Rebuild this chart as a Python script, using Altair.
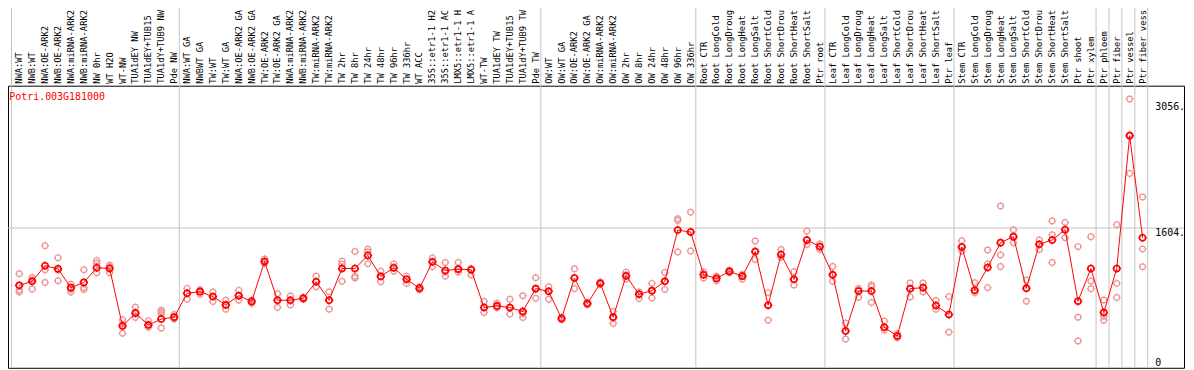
import altair as alt
import pandas as pd

gene_id = "Potri.003G181000"

labels = [
    "NWA:WT", "NWB:WT", "NWA:OE-ARK2", "NWB:OE-ARK2", "NWA:miRNA-ARK2", "NWB:miRNA-ARK2",
    "NW 0hr", "WT H2O", "WT-NW", "TUA1dEY NW", "TUA1dEY+TUB15", "TUA1dY+TUB9 NW", "Pde NW",
    "NWA:WT GA", "NWBWT GA", "TW:WT", "TW:WT GA", "NWA:OE-ARK2 GA", "NWB:OE-ARK2 GA",
    "TW:OE-ARK2", "TW:OE-ARK2 GA", "NWA:miRNA-ARK2", "NWB:miRNA-ARK2", "TW:miRNA-ARK2",
    "TW:miRNA-ARK2", "TW 2hr", "TW 8hr", "TW 24hr", "TW 48hr", "TW 96hr", "TW 336hr", "WT ACC",
    "35S::etr1-1 H2", "35S::etr1-1 AC", "LMX5::etr1-1 H", "LMX5::etr1-1 A", "WT-TW",
    "TUA1dEY TW", "TUA1dEY+TUB15", "TUA1dY+TUB9 TW", "Pde TW",
    "OW:WT", "OW:WT GA", "OW:OE-ARK2", "OW:OE-ARK2 GA", "OW:miRNA-ARK2", "OW:miRNA-ARK2",
    "OW 2hr", "OW 8hr", "OW 24hr", "OW 48hr", "OW 96hr", "OW 336hr",
    "Root CTR", "Root LongCold", "Root LongDroug", "Root LongHeat", "Root LongSalt",
    "Root ShortCold", "Root ShortDrou", "Root ShortHeat", "Root ShortSalt", "Ptr root",
    "Leaf CTR", "Leaf LongCold", "Leaf LongDroug", "Leaf LongHeat", "Leaf LongSalt",
    "Leaf ShortCold", "Leaf ShortDrou", "Leaf ShortHeat", "Leaf ShortSalt", "Ptr leaf",
    "Stem CTR", "Stem LongCold", "Stem LongDroug", "Stem LongHeat", "Stem LongSalt",
    "Stem ShortCold", "Stem ShortDrou", "Stem ShortHeat", "Stem ShortSalt", "Ptr shoot",
    "Ptr xylem", "Ptr phloem", "Ptr fiber", "Ptr vessel", "Ptr fiber vess",
]

means = [
    946, 992, 1171, 1136, 920, 980, 1148, 1140, 479, 627, 490, 559, 581,
    855, 874, 817, 722, 828, 760, 1220, 775, 775, 798, 988, 775, 1140, 1140, 1288,
    1049, 1148, 1015, 912, 1216, 1117, 1132, 1125, 692, 710, 692, 646, 908,
    878, 566, 1030, 737, 969, 581, 1056, 844, 885, 992, 1581, 1558,
    1068, 1026, 1106, 1052, 1334, 718, 1300, 1015, 1467, 1391,
    1068, 422, 881, 881, 464, 365, 908, 920, 715, 612,
    1387, 889, 1151, 1436, 1505, 912, 1417, 1467, 1585, 764,
    1140, 635, 1140, 2664, 1493,
]

replicates = [
    [1079, 893, 870], [1037, 1010, 904], [1402, 1125, 980], [1262, 1120, 1000],
    [958, 900, 870], [1125, 920, 900], [1231, 1200, 1091], [1178, 1160, 1091],
    [551, 500, 396], [695, 640, 578], [539, 500, 464], [661, 640, 620, 456], [612, 581, 560],
    [912, 855, 787], [897, 874, 844], [870, 817, 760], [775, 722, 673], [889, 828, 775],
    [780, 760, 740], [1250, 1220, 1200], [851, 775, 692], [824, 775, 722], [810, 798, 785],
    [1052, 988, 931], [874, 775, 673], [1223, 1190, 992], [1334, 1052, 1030],
    [1360, 1330, 1193], [1109, 1052, 988], [1193, 1148, 1110], [1052, 1015, 969],
    [930, 912, 895], [1262, 1216, 1159], [1208, 1100, 1052], [1208, 1132, 1098],
    [1140, 1125, 1064], [760, 692, 635], [740, 710, 690], [787, 692, 616],
    [828, 650, 620, 578], [1034, 908, 798],
    [931, 878, 787], [580, 566, 550], [1136, 1030, 908], [750, 737, 725], [985, 969, 955],
    [646, 581, 509], [1098, 1056, 1020], [870, 844, 794], [969, 885, 802], [1094, 992, 900],
    [1710, 1690, 1330], [1786, 1558, 1341],
    [1100, 1068, 1030], [1050, 1026, 1000], [1120, 1106, 1090], [1070, 1052, 1015],
    [1456, 1334, 1243], [863, 718, 547], [1357, 1300, 1270], [1102, 1015, 950],
    [1570, 1467, 1414], [1420, 1391, 1360],
    [1163, 1068, 992], [513, 422, 331], [910, 881, 809], [950, 930, 749], [536, 464, 430],
    [390, 365, 345], [973, 908, 813], [973, 920, 870], [772, 715, 673], [817, 612, 407],
    [1459, 1387, 1340], [977, 889, 860], [1353, 1193, 920], [1858, 1296, 1163],
    [1585, 1505, 1436], [1007, 912, 764], [1467, 1417, 1357], [1684, 1528, 1208],
    [1668, 1585, 1493], [1391, 581, 308],
    [1505, 995, 908], [779, 635, 590, 547], [1642, 969, 806], [3086, 2675, 2231],
    [1961, 1364, 1159],
]

group_last = [12, 40, 52, 62, 72, 83, 84, 85, 86, 87]
tick_values = [3056, 1604, 0]
grid_values = [1604]

MONO = "DejaVu Sans Mono"
RED = "#ff0000"
PINK = "#ec9797"
GRAY = "#c4c4c4"
W, H = 1184, 284

idx = list(range(len(labels)))
mean_df = pd.DataFrame({"idx": idx, "label": labels, "mean": means})
rep_df = pd.DataFrame([{"idx": i, "value": v} for i, vs in enumerate(replicates) for v in vs])
sep_df = pd.DataFrame({"sep": [-0.6] + [g + 0.4 for g in group_last]})
tick_df = pd.DataFrame({"v": tick_values, "t": [f"{v}." if v else "0" for v in tick_values]})
grid_df = pd.DataFrame({"v": grid_values})
title_df = pd.DataFrame({"t": [gene_id]})

xs = alt.Scale(domain=[-0.87, 90.21], nice=False, zero=False)
ys = alt.Scale(domain=[0, 3238], nice=False, zero=False)
X = alt.X("idx:Q", scale=xs, axis=None)

marker = ("M0.72,0A0.72,0.72 0 1,1 -0.72,0A0.72,0.72 0 1,1 0.72,0"
          "M0,-1L0,-0.5M0,0.5L0,1M-1,0L-0.5,0M0.5,0L1,0")

seps = alt.Chart(sep_df).mark_rule(color=GRAY, strokeWidth=1).encode(
    x=alt.X("sep:Q", scale=xs, axis=None), y=alt.value(-90), y2=alt.value(H))

grid = alt.Chart(grid_df).mark_rule(color=GRAY, strokeWidth=1).encode(
    y=alt.Y("v:Q", scale=ys, axis=None), x=alt.value(0), x2=alt.value(W))

cat_labels = alt.Chart(mean_df).mark_text(
    angle=270, align="left", baseline="middle", font=MONO, fontSize=8.8, color="black"
).encode(x=X, y=alt.value(-2), text="label:N")

reps = alt.Chart(rep_df).mark_point(
    shape=marker, filled=False, stroke=PINK, strokeWidth=1.2, size=64, opacity=1
).encode(x=X, y=alt.Y("value:Q", scale=ys, axis=None))

line = alt.Chart(mean_df).mark_line(color=RED, strokeWidth=1).encode(
    x=X, y=alt.Y("mean:Q", scale=ys, axis=None))

pts = alt.Chart(mean_df).mark_point(
    shape=marker, filled=False, stroke=RED, strokeWidth=1.6, size=72, opacity=1
).encode(x=X, y=alt.Y("mean:Q", scale=ys, axis=None))

title = alt.Chart(title_df).mark_text(
    align="left", baseline="middle", font=MONO, fontSize=10, color=RED
).encode(x=alt.value(1.3), y=alt.value(11.7), text="t:N")

ticks_top = alt.Chart(tick_df).transform_filter("datum.v > 0").mark_text(
    align="left", baseline="top", font=MONO, fontSize=10, color="black"
).encode(x=alt.value(W - 29), y=alt.Y("v:Q", scale=ys, axis=None), text="t:N")

ticks_zero = alt.Chart(tick_df).transform_filter("datum.v == 0").mark_text(
    align="left", baseline="bottom", font=MONO, fontSize=10, color="black"
).encode(x=alt.value(W - 29), y=alt.Y("v:Q", scale=ys, axis=None), text="t:N")

chart = alt.layer(
    seps, grid, cat_labels, reps, line, pts, title, ticks_top, ticks_zero
).properties(
    width=W, height=H,
    autosize=alt.AutoSizeParams(type="none"),
    padding={"left": 0, "top": 77, "right": 2, "bottom": 1},
    background="white",
).configure_view(stroke="black", strokeWidth=1)

chart.save("out.html", embed_options={"renderer": "svg", "actions": False})
